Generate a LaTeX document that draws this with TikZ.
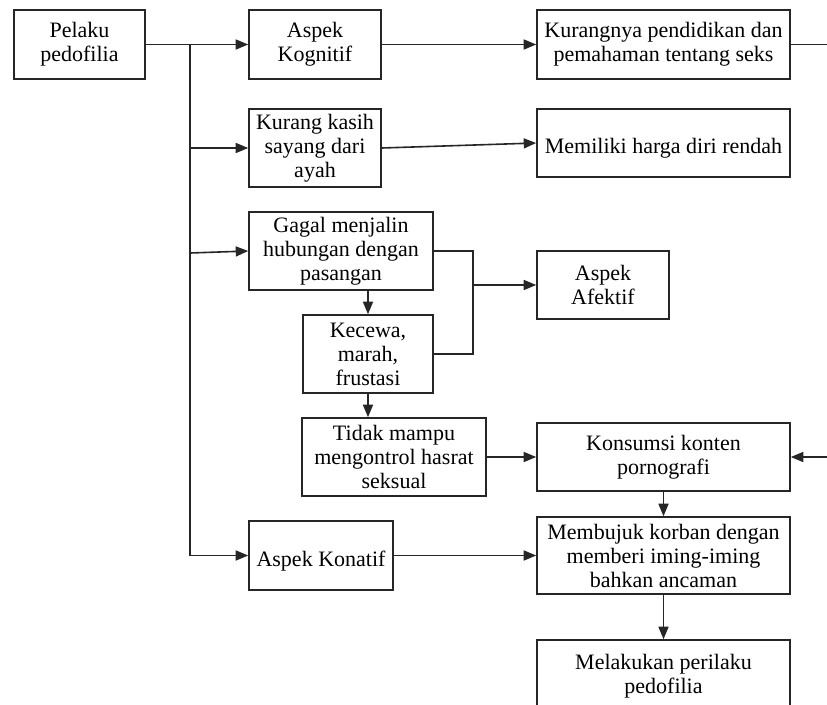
\documentclass[tikz,border=0pt]{standalone}
\usepackage{fontspec}
\setmainfont{Liberation Serif}
\usetikzlibrary{arrows.meta}
\begin{document}
\begin{tikzpicture}[x=1pt,y=-1pt,
  box/.style={draw=black!85, line width=1.6pt, align=center, inner sep=0pt,
    font=\fontsize{22}{24}\selectfont,
    execute at begin node={\rule{0pt}{26pt}}},
  conn/.style={draw=black!85, line width=1.6pt},
  arr/.style={conn, -{Triangle[length=12.5pt,width=10pt]}}]
\useasboundingbox[fill=white] (0,0) rectangle (827,704);
% nodes
\node[box, minimum width=131pt, minimum height=69pt] (pelaku) at (79.5,44.5) {Pelaku\\pedofilia};
\node[box, minimum width=132pt, minimum height=69pt] (kog) at (315,44.5) {Aspek\\Kognitif};
\node[box, minimum width=253pt, minimum height=69pt] (kurangnya) at (663.5,44.5) {Kurangnya pendidikan dan\\pemahaman tentang seks};
\node[box, minimum width=132pt, minimum height=78pt] (kasih) at (315,148) {Kurang kasih\\sayang dari\\ayah};
\node[box, minimum width=253pt, minimum height=68pt] (harga) at (663.5,143) {Memiliki harga diri rendah};
\node[box, minimum width=184pt, minimum height=78pt] (gagal) at (341,251) {Gagal menjalin\\hubungan dengan\\pasangan};
\node[box, minimum width=132pt, minimum height=68pt] (afektif) at (603,285) {Aspek\\Afektif};
\node[box, minimum width=130pt, minimum height=78pt] (kecewa) at (368,354) {Kecewa,\\marah,\\frustasi};
\node[box, minimum width=184pt, minimum height=78pt] (tidak) at (394,457) {Tidak mampu\\mengontrol hasrat\\seksual};
\node[box, minimum width=253pt, minimum height=68pt] (konsumsi) at (663.5,457) {Konsumsi konten\\pornografi};
\node[box, minimum width=144pt, minimum height=69pt] (konatif) at (321,555.5) {Aspek Konatif};
\node[box, minimum width=253pt, minimum height=77pt] (membujuk) at (663.5,555.5) {Membujuk korban dengan\\memberi iming-iming\\bahkan ancaman};
\node[box, minimum width=253pt, minimum height=72pt] (melakukan) at (663.5,676) {Melakukan perilaku\\pedofilia};
% trunk
\coordinate (t1) at (190,44.5);
\coordinate (t2) at (190,148);
\coordinate (t3) at (190,253);
\coordinate (t4) at (190,555.5);
\draw[conn] (pelaku.east) -- (t1) -- (t4);
\draw[arr] (t1) -- (kog.west);
\draw[arr] (t2) -- (kasih.west);
\draw[arr] (t3) -- (gagal.west);
\draw[arr] (t4) -- (konatif.west);
% row connections
\draw[arr] (kog.east) -- (kurangnya.west);
\draw[arr] (kasih.east) -- (harga.west);
\coordinate (r1) at (845,44.5);
\draw[arr] (kurangnya.east) -- (r1) |- (konsumsi.east);
% afektif
\coordinate (j) at (473,285);
\draw[conn] (gagal.east) -| (j |- kecewa.east) -- (kecewa.east);
\draw[arr] (j) -- (afektif.west);
\draw[arr] (gagal.south -| kecewa.north) -- (kecewa.north);
\draw[arr] (kecewa.south) -- (kecewa.south |- tidak.north);
\draw[arr] (tidak.east) -- (konsumsi.west);
\draw[arr] (konatif.east) -- (membujuk.west);
\draw[arr] (konsumsi.south) -- (membujuk.north);
\draw[arr] (membujuk.south) -- (melakukan.north);
\end{tikzpicture}
\end{document}
